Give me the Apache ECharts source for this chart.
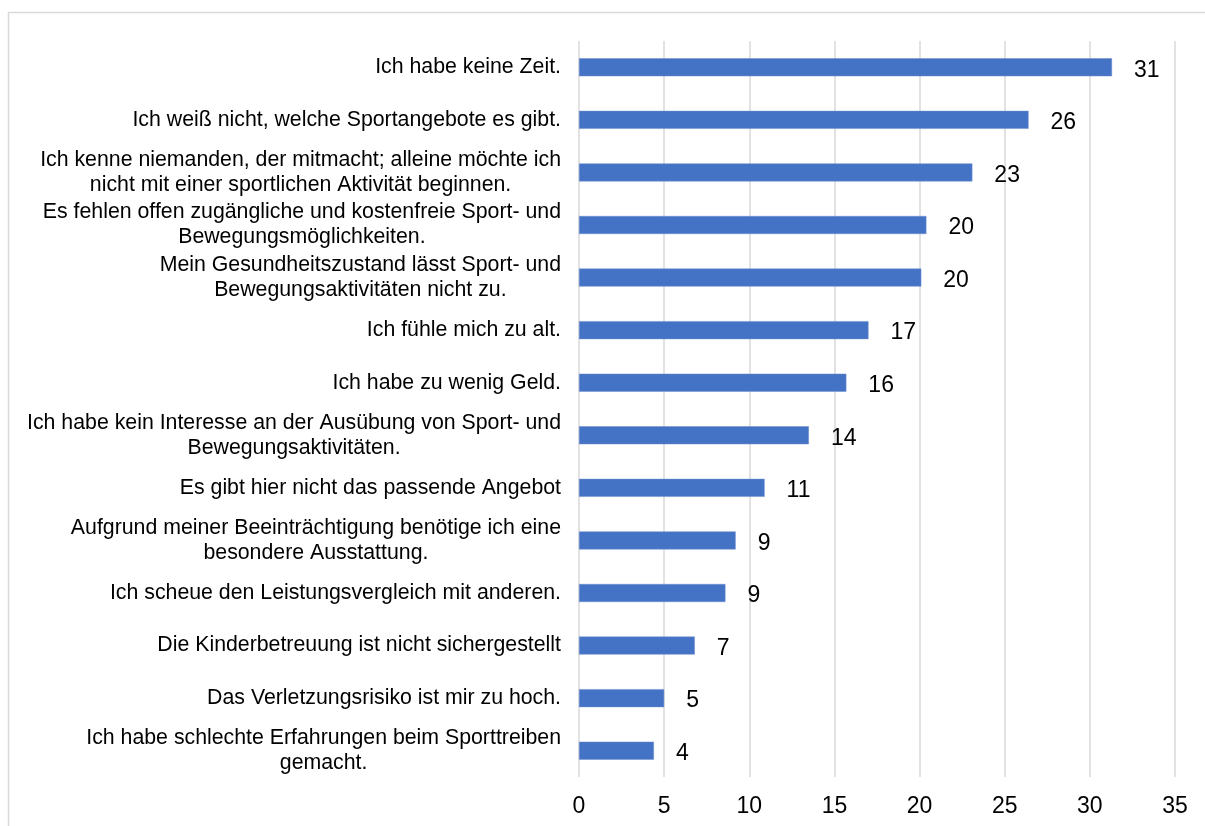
<!DOCTYPE html>
<html>
<head>
<meta charset="utf-8">
<script src="https://cdn.jsdelivr.net/npm/echarts@6/dist/echarts.min.js"></script>
<style>
html,body{margin:0;padding:0;background:#fff;}
#chart{width:1205px;height:826px;}
</style>
</head>
<body>
<div id="chart"></div>
<script>
const categories = [
  "Ich habe keine Zeit.",
  "Ich weiß nicht, welche Sportangebote es gibt.",
  "Ich kenne niemanden, der mitmacht; alleine möchte ich\nnicht mit einer sportlichen Aktivität beginnen.",
  "Es fehlen offen zugängliche und kostenfreie Sport- und\nBewegungsmöglichkeiten.",
  "Mein Gesundheitszustand lässt Sport- und\nBewegungsaktivitäten nicht zu.",
  "Ich fühle mich zu alt.",
  "Ich habe zu wenig Geld.",
  "Ich habe kein Interesse an der Ausübung von Sport- und\nBewegungsaktivitäten.",
  "Es gibt hier nicht das passende Angebot",
  "Aufgrund meiner Beeinträchtigung benötige ich eine\nbesondere Ausstattung.",
  "Ich scheue den Leistungsvergleich mit anderen.",
  "Die Kinderbetreuung ist nicht sichergestellt",
  "Das Verletzungsrisiko ist mir zu hoch.",
  "Ich habe schlechte Erfahrungen beim Sporttreiben\ngemacht."
];
const values = [31.3, 26.4, 23.1, 20.4, 20.1, 17.0, 15.7, 13.5, 10.9, 9.2, 8.6, 6.8, 5.0, 4.4];
const xMin = 0, xMax = 35, xStep = 5;

const FONT = "'Liberation Sans', Arial, sans-serif";
const chart = echarts.init(document.getElementById('chart'), null, {renderer: 'canvas'});
chart.setOption({
  animation: false,
  backgroundColor: '#ffffff',
  graphic: [{
    type: 'rect',
    shape: {x: 8.5, y: 12.5, width: 1400, height: 1000},
    style: {fill: 'none', stroke: '#d9d9d9', lineWidth: 1.5},
    silent: true
  }],
  grid: {left: 579, right: 30, top: 41, bottom: 49, containLabel: false},
  xAxis: {
    type: 'value', min: xMin, max: xMax, interval: xStep,
    axisLine: {show: false}, axisTick: {show: false},
    splitLine: {show: true, lineStyle: {color: '#d9d9d9', width: 1.5}},
    axisLabel: {color: '#000', fontSize: 23, fontFamily: FONT, margin: 18}
  },
  yAxis: {
    type: 'category', inverse: true, data: categories,
    axisLine: {show: false}, axisTick: {show: false},
    axisLabel: {
      color: '#000', fontFamily: FONT, fontSize: 21.3, margin: 18, align: 'right',
      formatter: function (v) {
        return v.split('\n').map(function (l) { return '{c|' + l + '}'; }).join('\n');
      },
      rich: {c: {align: 'center', fontSize: 21.3, lineHeight: 25, fontFamily: FONT, color: '#000'}}
    }
  },
  series: [{
    type: 'bar', data: values, barWidth: 18,
    itemStyle: {color: '#4472C4', borderColor: '#6e8fd0', borderWidth: 0.5},
    label: {
      show: true, position: 'right', distance: 22, offset: [0, 3], color: '#000',
      fontSize: 23, fontFamily: FONT,
      formatter: function (p) { return String(Math.round(p.value)); }
    }
  }]
});
</script>
</body>
</html>
